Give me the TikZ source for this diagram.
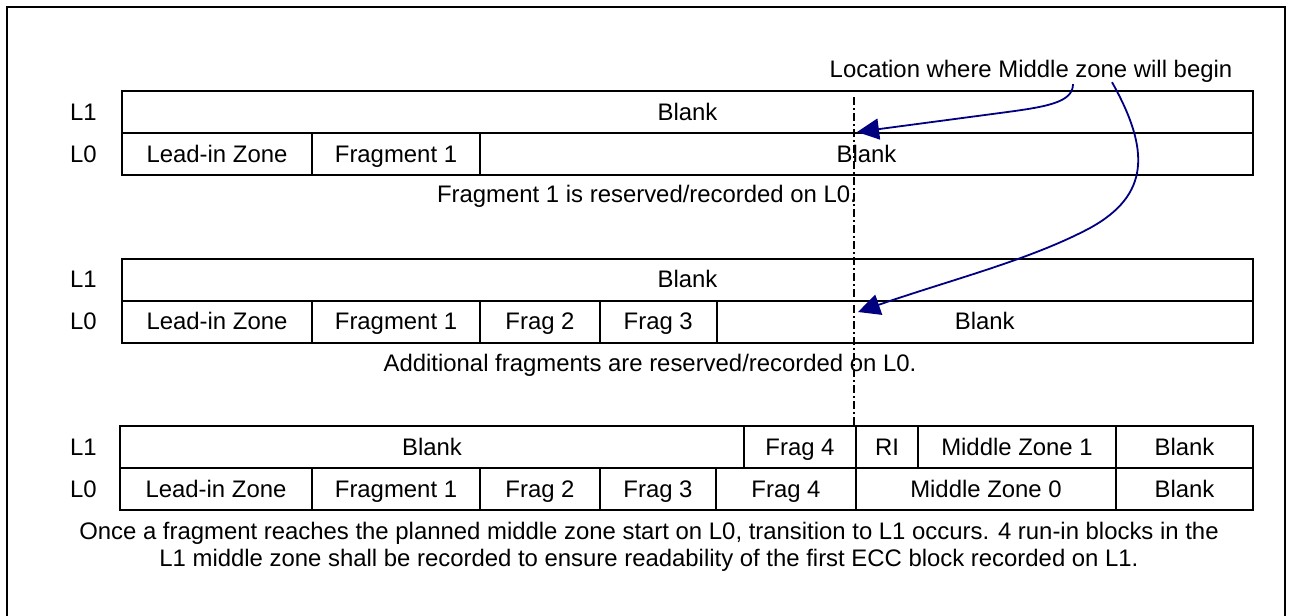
\documentclass[tikz,border=0pt]{standalone}
\usepackage{fontspec}
\setmainfont{Liberation Sans}
\usepackage{xcolor}
\usetikzlibrary{arrows.meta,positioning,calc}
\definecolor{ink}{RGB}{0,0,0}
\definecolor{pointerblue}{RGB}{0,0,128}
\tikzset{
  cell/.style    = {draw=ink, line width=2pt, minimum width=#1, minimum height=42pt,
                    inner sep=0pt, outer sep=0pt, anchor=west, text=ink,
                    text height=17pt, text depth=1pt},
  tag/.style     = {inner sep=0pt, text=ink, text height=17pt, text depth=1pt},
  note/.style    = {inner sep=0pt, align=center, text=ink, anchor=base},
  pointer/.style = {-{Triangle[length=22pt,width=21pt]}, draw=pointerblue, line width=1.8pt},
  marker/.style  = {draw=ink, line width=1.5pt, dash pattern=on 8pt off 3pt on 2pt off 3pt},
}

\begin{document}
\begin{tikzpicture}[x=1pt, y=-1pt, font=\fontsize{23.9pt}{27pt}\selectfont]
\useasboundingbox (0,0) rectangle (1291,616);
\draw[ink, line width=2pt] (7,7) rectangle (1285,630);

\node[note] (loc) at (1031,77) {Location where Middle zone will begin};

\node[tag] (aL1) at (83.5,112) {L1};
\node[tag] (aL0) at (83.5,154) {L0};
\node[cell=1131pt] (aBlankA) at (122,112) {Blank};
\node[cell=190pt] (aLead) at (122,154) {Lead-in Zone};
\node[cell=168pt, right=0pt of aLead] (aFrag1) {Fragment 1};
\node[cell=773pt, right=0pt of aFrag1] (aBlankB) {Blank};
\node[note] (aNote) at (647,202) {Fragment 1 is reserved/recorded on L0.};

\node[tag] (bL1) at (83.5,279.5) {L1};
\node[tag] (bL0) at (83.5,321.5) {L0};
\node[cell=1131pt] (bBlankA) at (122,279.5) {Blank};
\node[cell=190pt] (bLead) at (122,321.5) {Lead-in Zone};
\node[cell=168pt, right=0pt of bLead] (bFrag1) {Fragment 1};
\node[cell=120pt, right=0pt of bFrag1] (bFrag2) {Frag 2};
\node[cell=116.5pt, right=0pt of bFrag2] (bFrag3) {Frag 3};
\node[cell=536.5pt, right=0pt of bFrag3] (bBlankB) {Blank};
\node[note] (bNote) at (650,371) {Additional fragments are reserved/recorded on L0.};

\node[tag] (cL1) at (83.5,447) {L1};
\node[tag] (cL0) at (83.5,489) {L0};
\node[cell=624pt] (cBlankA) at (120,447) {Blank};
\node[cell=112pt, right=0pt of cBlankA] (cFrag4A) {Frag 4};
\node[cell=62pt, right=0pt of cFrag4A] (cRI) {RI};
\node[cell=198pt, right=0pt of cRI] (cMid1) {Middle Zone 1};
\node[cell=137pt, right=0pt of cMid1] (cBlankB) {Blank};
\node[cell=192pt] (cLead) at (120,489) {Lead-in Zone};
\node[cell=168pt, right=0pt of cLead] (cFrag1) {Fragment 1};
\node[cell=120pt, right=0pt of cFrag1] (cFrag2) {Frag 2};
\node[cell=116pt, right=0pt of cFrag2] (cFrag3) {Frag 3};
\node[cell=140pt, right=0pt of cFrag3] (cFrag4B) {Frag 4};
\node[cell=260pt, right=0pt of cFrag4B] (cMid0) {Middle Zone 0};
\node[cell=137pt, right=0pt of cMid0] (cBlankC) {Blank};
\node[note] (cNote) at (649,566) {Once a fragment reaches the planned middle zone start on L0, transition to L1 occurs.  4 run-in blocks in the\\L1 middle zone shall be recorded to ensure readability of the first ECC block recorded on L1.};

\coordinate (mzTop) at (854,97);
\coordinate (mzEnd) at (854,427);
\coordinate (tipA) at (857,132);
\coordinate (tipB) at (858,312);
\draw[marker] (mzTop) -- (mzEnd);
\draw[pointer] ($(loc.south)+(42,2)$) .. controls (1073,103) and (1045,107) .. (1000,113) -- (tipA);
\draw[pointer] ($(loc.south)+(81,0)$) .. controls (1150,150) and (1150,195) .. (1090,228)
  .. controls (1030,260) and (950,280) .. (tipB);
\end{tikzpicture}
\end{document}
